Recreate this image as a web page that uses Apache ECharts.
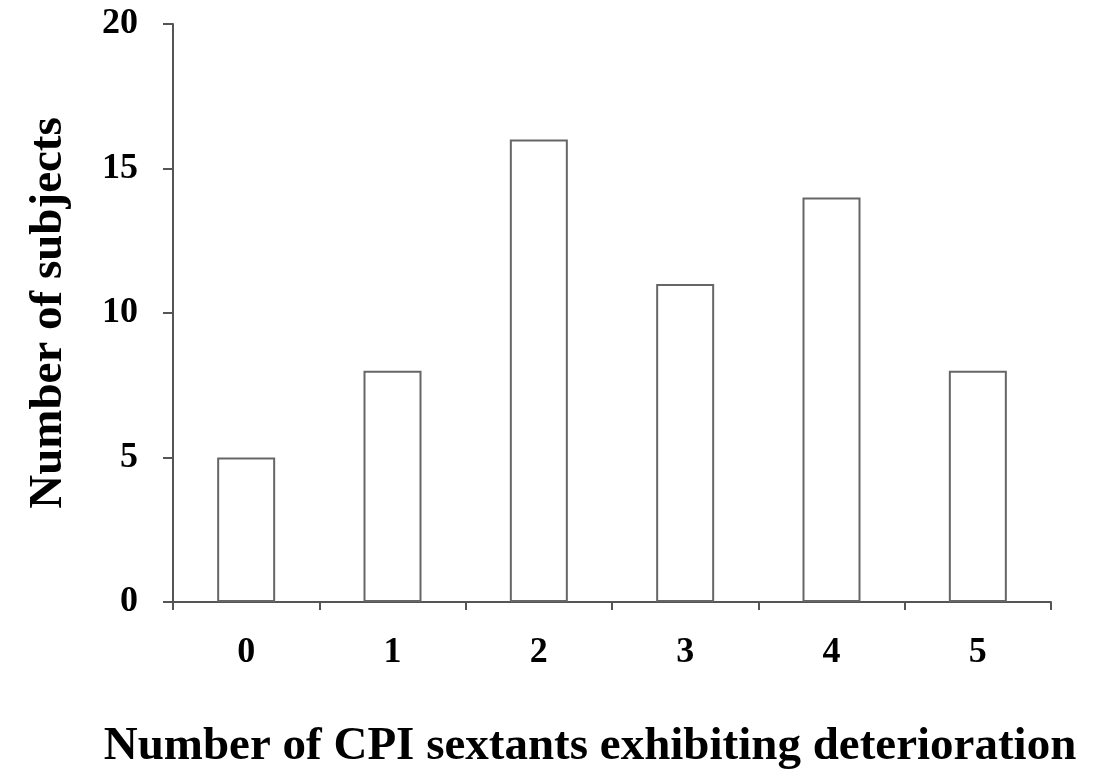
<!DOCTYPE html>
<html>
<head>
<meta charset="utf-8">
<script src="https://cdn.jsdelivr.net/npm/echarts@6/dist/echarts.min.js"></script>
<style>
  html, body { margin: 0; padding: 0; background: #fff; }
  #chart { width: 1094px; height: 771px; }
</style>
</head>
<body>
<div id="chart"></div>
<script>
var categories = ['0', '1', '2', '3', '4', '5'];
var subjects = [5, 8, 16, 11, 14, 8];
var yTicks = [0, 5, 10, 15, 20];

var font = '"Liberation Serif", "Times New Roman", serif';
var axisGray = '#555';

var chart = echarts.init(document.getElementById('chart'));
var options = {
    animation: false,
    grid: {
        left: 173,
        right: 43,
        top: 24,
        bottom: 169,
        outerBoundsMode: 'none'
    },
    xAxis: {
        type: 'category',
        data: categories,
        name: 'Number of CPI sextants exhibiting deterioration',
        nameLocation: 'middle',
        nameGap: 121,
        nameTextStyle: {
            fontFamily: font,
            fontWeight: 'bold',
            fontSize: 47,
            color: '#000',
            padding: [0, 44, 0, 0]
        },
        axisLine: { lineStyle: { color: axisGray, width: 2 } },
        axisTick: { show: true, length: 8, lineStyle: { color: axisGray, width: 2 } },
        axisLabel: {
            margin: 33,
            fontFamily: font,
            fontWeight: 'bold',
            fontSize: 36,
            color: '#000'
        }
    },
    yAxis: {
        type: 'value',
        min: 0,
        max: 20,
        interval: 5,
        name: 'Number of subjects',
        nameLocation: 'middle',
        nameGap: 101,
        nameTextStyle: {
            fontFamily: font,
            fontWeight: 'bold',
            fontSize: 47,
            color: '#000'
        },
        splitLine: { show: false },
        axisLine: { show: true, lineStyle: { color: axisGray, width: 2 } },
        axisTick: { show: true, length: 10, lineStyle: { color: axisGray, width: 2 } },
        axisLabel: {
            margin: 35,
            fontFamily: font,
            fontWeight: 'bold',
            fontSize: 36,
            color: '#000',
            formatter: function (v) { return yTicks.indexOf(v) >= 0 ? String(v) : ''; }
        }
    },
    series: [{
        type: 'bar',
        data: subjects,
        barWidth: 58,
        itemStyle: {
            color: '#fff',
            borderColor: '#666',
            borderWidth: 2
        }
    }]
};
chart.setOption(options);
</script>
</body>
</html>
